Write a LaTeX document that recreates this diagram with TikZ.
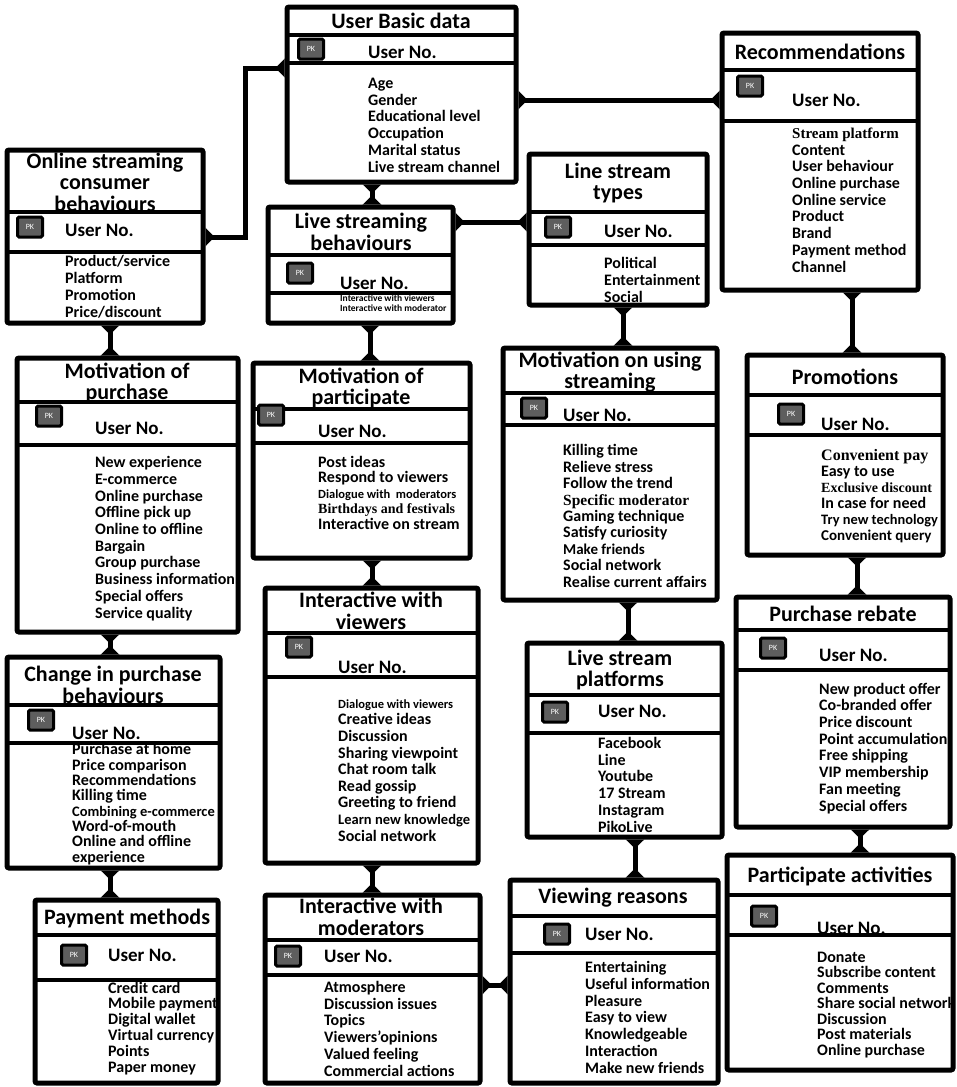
\documentclass[tikz,border=0pt]{standalone}
\usepackage{fontspec}
\setmainfont{Carlito}
\newfontfamily\timesfont{Liberation Serif}
\usetikzlibrary{fit,arrows.meta}
\definecolor{PkGray}{HTML}{5E5E5E}
\tikzset{
  entbox/.style={draw=black, line width=5pt, rounded corners=2pt, inner sep=0pt},
  rowline/.style={line width=4.5pt},
  titletext/.style={font=\bfseries\fontsize{22}{21.5}\selectfont, align=center, inner sep=0pt},
  pkbadge/.style={draw=black, line width=3pt, fill=PkGray, text=white, font=\fontsize{8}{8}\selectfont, minimum width=25pt, minimum height=20pt, inner sep=0pt, rounded corners=1.5pt},
  keytext/.style={font=\bfseries\fontsize{19}{20}\selectfont, anchor=west, inner sep=0pt},
  attrtext/.style={font=\bfseries\fontsize{16}{16.7}\selectfont, anchor=base west, align=left, inner sep=0pt},
  relline/.style={line width=5pt, {Triangle[reversed,length=9pt,width=18pt]}-{Triangle[reversed,length=9pt,width=18pt]}}
}

\begin{document}
\lineskiplimit=-20pt
\begin{tikzpicture}[x=1pt,y=-1pt]
  \path[use as bounding box, fill=white] (0,0) rectangle (957,1087);

  \node[entbox, fit={(287,7)(516,182)}] (ubd) {};
  \draw[rowline] (287,35) -- (516,35) (287,63) -- (516,63);
  \node[titletext] (ubd-title) at (401,21) {User Basic data};
  \node[pkbadge] (ubd-pk) at (311,49) {PK};
  \node[keytext] (ubd-key) at (368,52) {User No.};
  \node[attrtext] (ubd-attr) at (368,172) {Age\\Gender\\Educational level\\Occupation\\Marital status\\Live stream channel};

  \node[entbox, fit={(722,33)(918,290)}] (rec) {};
  \draw[rowline] (722,70) -- (918,70) (722,121) -- (918,121);
  \node[titletext] (rec-title) at (820,52) {Recommendations};
  \node[pkbadge] (rec-pk) at (750,86) {PK};
  \node[keytext] (rec-key) at (792,100) {User No.};
  \node[attrtext] (rec-attr) at (792,272) {{\timesfont\fontsize{15}{16.7}\selectfont Stream platform}\\Content\\User behaviour\\Online purchase\\Online service\\Product\\Brand\\Payment method\\Channel};

  \node[entbox, fit={(7,150)(203,323)}] (oscb) {};
  \draw[rowline] (7,212) -- (203,212) (7,252) -- (203,252);
  \node[titletext] (oscb-title) at (105,182) {Online streaming\\consumer\\behaviours};
  \node[pkbadge] (oscb-pk) at (30,227) {PK};
  \node[keytext] (oscb-key) at (65,230) {User No.};
  \node[attrtext] (oscb-attr) at (65,317) {Product/service\\Platform\\Promotion\\Price/discount};

  \node[entbox, fit={(268,207)(453,323)}] (lsb) {};
  \draw[rowline] (268,255) -- (453,255) (268,293) -- (453,293);
  \node[titletext] (lsb-title) at (361,232) {Live streaming\\behaviours};
  \node[pkbadge] (lsb-pk) at (300,273) {PK};
  \node[keytext] (lsb-key) at (340,283) {User No.};
  \node[attrtext, font=\bfseries\fontsize{9.5}{10}\selectfont] (lsb-attr) at (340,311) {Interactive with viewers\\Interactive with moderator};

  \node[entbox, fit={(529,154)(707,305)}] (lst) {};
  \draw[rowline] (529,212) -- (707,212) (529,245) -- (707,245);
  \node[titletext] (lst-title) at (618,183) {Line stream\\types};
  \node[pkbadge] (lst-pk) at (558,227) {PK};
  \node[keytext] (lst-key) at (604,231) {User No.};
  \node[attrtext, font=\bfseries\fontsize{16}{17}\selectfont] (lst-attr) at (604,302) {Political\\Entertainment\\Social};

  \node[entbox, fit={(17,358)(238,632)}] (mop) {};
  \draw[rowline] (17,402) -- (238,402) (17,445) -- (238,445);
  \node[titletext] (mop-title) at (127,383) {Motivation of\\purchase};
  \node[pkbadge] (mop-pk) at (49,416) {PK};
  \node[keytext] (mop-key) at (95,428) {User No.};
  \node[attrtext] (mop-attr) at (95,618) {New experience\\E-commerce\\Online purchase\\Offline pick up\\Online to offline\\Bargain\\Group purchase\\Business information\\Special offers\\Service quality};

  \node[entbox, fit={(253,363)(470,558)}] (mopart) {};
  \draw[rowline] (253,409) -- (470,409) (253,443) -- (470,443);
  \node[titletext] (mopart-title) at (361,388) {Motivation of\\participate};
  \node[pkbadge] (mopart-pk) at (271,415) {PK};
  \node[keytext] (mopart-key) at (318,431) {User No.};
  \node[attrtext, font=\bfseries\fontsize{16}{15.5}\selectfont] (mopart-attr) at (318,529) {Post ideas\\Respond to viewers\\{\fontsize{12.5}{15.5}\selectfont Dialogue with\ \ moderators}\\{\timesfont\fontsize{14}{15.5}\selectfont Birthdays and festivals}\\Interactive on stream};

  \node[entbox, fit={(503,348)(717,600)}] (mous) {};
  \draw[rowline] (503,393) -- (717,393) (503,425) -- (717,425);
  \node[titletext] (mous-title) at (610,372) {Motivation on using\\streaming};
  \node[pkbadge] (mous-pk) at (534,408) {PK};
  \node[keytext] (mous-key) at (563,415) {User No.};
  \node[attrtext, font=\bfseries\fontsize{16}{16.4}\selectfont] (mous-attr) at (563,587) {Killing time\\Relieve stress\\Follow the trend\\{\timesfont\fontsize{15.5}{16.4}\selectfont Specific moderator}\\Gaming technique\\Satisfy curiosity\\{\fontsize{15}{16.4}\selectfont Make friends}\\Social network\\Realise current affairs};

  \node[entbox, fit={(747,355)(943,555)}] (prom) {};
  \draw[rowline] (747,395) -- (943,395) (747,435) -- (943,435);
  \node[titletext] (prom-title) at (845,377) {Promotions};
  \node[pkbadge] (prom-pk) at (791,414) {PK};
  \node[keytext] (prom-key) at (821,424) {User No.};
  \node[attrtext, font=\bfseries\fontsize{16}{16}\selectfont] (prom-attr) at (821,540) {{\timesfont\fontsize{16}{16}\selectfont Convenient pay}\\Easy to use\\{\timesfont\fontsize{14}{16}\selectfont Exclusive discount}\\In case for need\\{\fontsize{14.4}{16}\selectfont Try new technology}\\{\fontsize{15}{16}\selectfont Convenient query}};

  \node[entbox, fit={(736,597)(950,827)}] (pr) {};
  \draw[rowline] (736,630) -- (950,630) (736,670) -- (950,670);
  \node[titletext] (pr-title) at (843,614) {Purchase rebate};
  \node[pkbadge] (pr-pk) at (773,648) {PK};
  \node[keytext] (pr-key) at (819,655) {User No.};
  \node[attrtext] (pr-attr) at (819,811) {New product offer\\Co-branded offer\\Price discount\\Point accumulation\\Free shipping\\VIP membership\\Fan meeting\\Special offers};

  \node[entbox, fit={(727,855)(953,1070)}] (pa) {};
  \draw[rowline] (727,895) -- (953,895) (727,935) -- (953,935);
  \node[titletext] (pa-title) at (840,876) {Participate activities};
  \node[pkbadge] (pa-pk) at (764,916) {PK};
  \node[keytext] (pa-key) at (817,928) {User No.};
  \node[attrtext, font=\bfseries\fontsize{16}{15.5}\selectfont] (pa-attr) at (817,1055) {Donate\\Subscribe content\\Comments\\Share social network\\Discussion\\Post materials\\Online purchase};

  \node[entbox, fit={(527,643)(722,837)}] (lsp) {};
  \draw[rowline] (527,695) -- (722,695) (527,733) -- (722,733);
  \node[titletext] (lsp-title) at (620,670) {Live stream\\platforms};
  \node[pkbadge] (lsp-pk) at (555,712) {PK};
  \node[keytext] (lsp-key) at (598,711) {User No.};
  \node[attrtext] (lsp-attr) at (598,832) {Facebook\\Line\\Youtube\\17 Stream\\Instagram\\PikoLive};

  \node[entbox, fit={(510,880)(718,1083)}] (vr) {};
  \draw[rowline] (510,916) -- (718,916) (510,953) -- (718,953);
  \node[titletext] (vr-title) at (613,898) {Viewing reasons};
  \node[pkbadge] (vr-pk) at (557,934) {PK};
  \node[keytext] (vr-key) at (585,934) {User No.};
  \node[attrtext] (vr-attr) at (585,1073) {Entertaining\\Useful information\\Pleasure\\Easy to view\\Knowledgeable\\Interaction\\Make new friends};

  \node[entbox, fit={(265,588)(478,863)}] (iwv) {};
  \draw[rowline] (265,633) -- (478,633) (265,677) -- (478,677);
  \node[titletext] (iwv-title) at (371,611) {Interactive with\\viewers};
  \node[pkbadge] (iwv-pk) at (299,647) {PK};
  \node[keytext] (iwv-key) at (338,667) {User No.};
  \node[attrtext, font=\bfseries\fontsize{16}{16.6}\selectfont] (iwv-attr) at (338,841) {{\fontsize{12.5}{16.6}\selectfont Dialogue with viewers}\\Creative ideas\\Discussion\\Sharing viewpoint\\Chat room talk\\Read gossip\\Greeting to friend\\{\fontsize{14.5}{16.6}\selectfont Learn new knowledge}\\Social network};

  \node[entbox, fit={(265,895)(480,1083)}] (iwm) {};
  \draw[rowline] (265,940) -- (480,940) (265,975) -- (480,975);
  \node[titletext] (iwm-title) at (371,917) {Interactive with\\moderators};
  \node[pkbadge] (iwm-pk) at (288,956) {PK};
  \node[keytext] (iwm-key) at (324,956) {User No.};
  \node[attrtext] (iwm-attr) at (324,1076) {Atmosphere\\Discussion issues\\Topics\\Viewers'opinions\\Valued feeling\\Commercial actions};

  \node[entbox, fit={(7,657)(220,868)}] (cpb) {};
  \draw[rowline] (7,705) -- (220,705) (7,743) -- (220,743);
  \node[titletext] (cpb-title) at (113,685) {Change in purchase\\behaviours};
  \node[pkbadge] (cpb-pk) at (41,720) {PK};
  \node[keytext] (cpb-key) at (72,733) {User No.};
  \node[attrtext, font=\bfseries\fontsize{16}{15.3}\selectfont] (cpb-attr) at (72,862) {Purchase at home\\Price comparison\\Recommendations\\Killing time\\{\fontsize{14.5}{15.3}\selectfont Combining e-commerce}\\Word-of-mouth\\Online and offline\\experience};

  \node[entbox, fit={(35,900)(218,1083)}] (pm) {};
  \draw[rowline] (35,935) -- (218,935) (35,980) -- (218,980);
  \node[titletext] (pm-title) at (127,918) {Payment methods};
  \node[pkbadge] (pm-pk) at (74,955) {PK};
  \node[keytext] (pm-key) at (108,955) {User No.};
  \node[attrtext, font=\bfseries\fontsize{16}{15.8}\selectfont] (pm-attr) at (108,1072) {Credit card\\Mobile payment\\Digital wallet\\Virtual currency\\Points\\Paper money};

  \draw[relline] (ubd.west |- 0,68) -| (245,150) |- (oscb.east |- 0,237);
  \draw[relline] (ubd.east |- 0,100) -- (rec.west |- 0,100);
  \draw[relline] (372,0 |- ubd.south) -- (372,0 |- lsb.north);
  \draw[relline] (lsb.east |- 0,222) -- (lst.west |- 0,222);
  \draw[relline] (110,0 |- oscb.south) -- (110,0 |- mop.north);
  \draw[relline] (370,0 |- lsb.south) -- (370,0 |- mopart.north);
  \draw[relline] (623,0 |- lst.south) -- (623,0 |- mous.north);
  \draw[relline] (852,0 |- rec.south) -- (852,0 |- prom.north);
  \draw[relline] (110,0 |- mop.south) -- (110,0 |- cpb.north);
  \draw[relline] (372,0 |- mopart.south) -- (372,0 |- iwv.north);
  \draw[relline] (628,0 |- mous.south) -- (628,0 |- lsp.north);
  \draw[relline] (857,0 |- prom.south) -- (857,0 |- pr.north);
  \draw[relline] (110,0 |- cpb.south) -- (110,0 |- pm.north);
  \draw[relline] (372,0 |- iwv.south) -- (372,0 |- iwm.north);
  \draw[relline] (635,0 |- lsp.south) -- (635,0 |- vr.north);
  \draw[relline] (860,0 |- pr.south) -- (860,0 |- pa.north);
  \draw[relline] (iwm.east |- 0,985) -- (vr.west |- 0,985);
\end{tikzpicture}
\end{document}
